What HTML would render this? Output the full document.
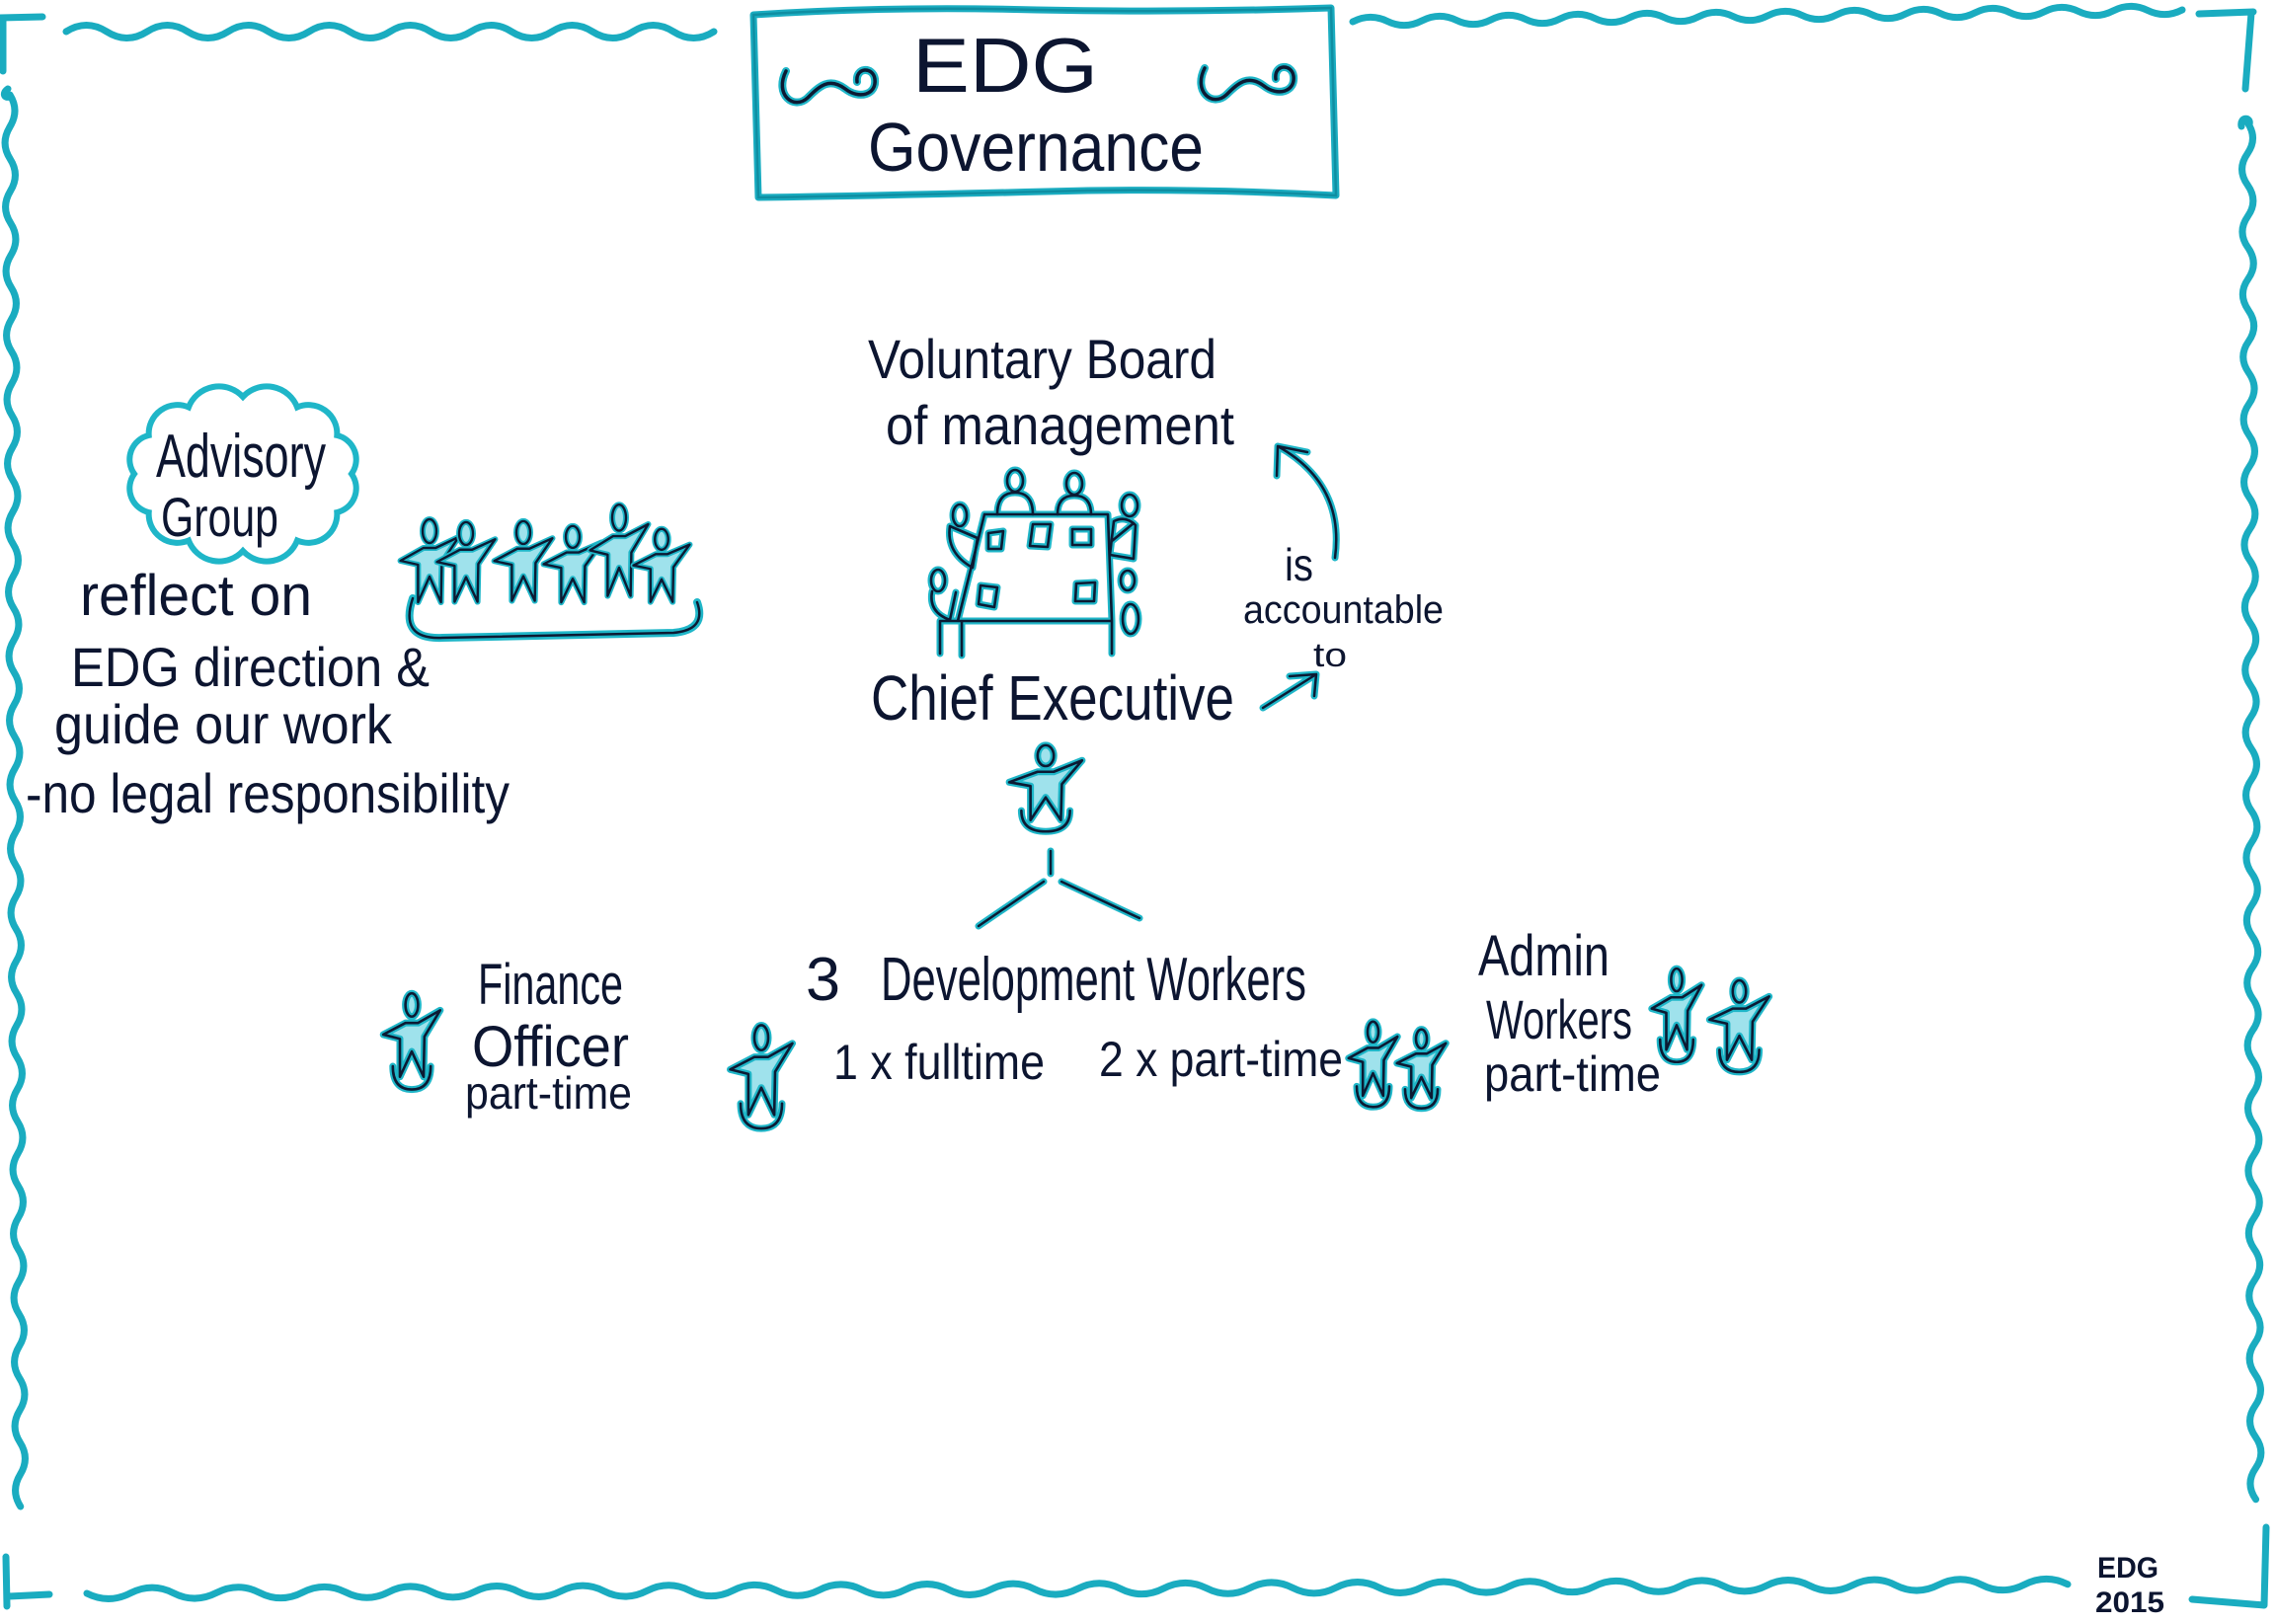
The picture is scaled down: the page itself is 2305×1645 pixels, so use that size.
<!DOCTYPE html>
<html><head><meta charset="utf-8"><style>
html,body{margin:0;padding:0;background:#fff;}
svg{display:block;}
text{font-family:"Liberation Sans Narrow","Liberation Sans",sans-serif;fill:#0c1530;}
</style></head><body>
<svg width="2305" height="1645" viewBox="0 0 2305 1645" xmlns="http://www.w3.org/2000/svg">
<defs>
<symbol id="p" viewBox="0 0 80 100" preserveAspectRatio="none" overflow="visible">
 <g fill="#9fe2ec" stroke="#1fb6c8" stroke-width="7" stroke-linejoin="round" stroke-linecap="round">
  <ellipse cx="40" cy="14" rx="8" ry="11" vector-effect="non-scaling-stroke"/>
  <path d="M4 42 L32 31 L48 31 L76 19 L56 44 L55 82 L40 58 L25 82 L25 46 Z" vector-effect="non-scaling-stroke"/>
  <path d="M16 72 Q16 94 40 94 Q64 94 64 72" fill="none" vector-effect="non-scaling-stroke"/>
 </g>
 <g fill="none" stroke="#0c1a33" stroke-width="2.6" stroke-linejoin="round" stroke-linecap="round">
  <ellipse cx="40" cy="14" rx="8" ry="11" vector-effect="non-scaling-stroke"/>
  <path d="M4 42 L32 31 L48 31 L76 19 L56 44 L55 82 L40 58 L25 82 L25 46 Z" vector-effect="non-scaling-stroke"/>
  <path d="M16 72 Q16 94 40 94 Q64 94 64 72" vector-effect="non-scaling-stroke"/>
 </g>
</symbol>
<symbol id="q" viewBox="0 0 80 100" preserveAspectRatio="none" overflow="visible">
 <g fill="#9fe2ec" stroke="#1fb6c8" stroke-width="6" stroke-linejoin="round" stroke-linecap="round">
  <ellipse cx="40" cy="14" rx="9" ry="12" vector-effect="non-scaling-stroke"/>
  <path d="M2 44 L32 31 L48 31 L78 20 L56 46 L55 86 L40 60 L25 86 L25 48 Z" vector-effect="non-scaling-stroke"/>
 </g>
 <g fill="none" stroke="#0c1a33" stroke-width="2.4" stroke-linejoin="round" stroke-linecap="round">
  <ellipse cx="40" cy="14" rx="9" ry="12" vector-effect="non-scaling-stroke"/>
  <path d="M2 44 L32 31 L48 31 L78 20 L56 46 L55 86 L40 60 L25 86 L25 48 Z" vector-effect="non-scaling-stroke"/>
 </g>
</symbol>
<g id="board" fill="none" stroke-linecap="round" stroke-linejoin="round">
 <path d="M997 521 L1122 521 L1126 629 L952 629 M997 521 L970 629 M952 629 L952 662 M974 629 L974 664 M1126 629 L1126 662"/>
 <ellipse cx="1028" cy="487" rx="8" ry="11"/>
 <path d="M1010 521 Q1010 499 1028 499 Q1046 499 1046 521"/>
 <ellipse cx="1088" cy="490" rx="8" ry="11"/>
 <path d="M1071 521 Q1071 502 1088 502 Q1105 502 1105 521"/>
 <ellipse cx="972" cy="522" rx="7" ry="11"/>
 <path d="M962 533 Q958 560 985 575 L990 545 Z"/>
 <ellipse cx="950" cy="588" rx="7" ry="11"/>
 <path d="M944 599 Q940 620 962 628 L968 600"/>
 <ellipse cx="1144" cy="512" rx="8" ry="11"/>
 <path d="M1124 562 L1128 528 Q1140 522 1150 532 L1148 566 Z M1126 548 L1148 530"/>
 <ellipse cx="1142" cy="588" rx="7" ry="10"/>
 <ellipse cx="1145" cy="627" rx="8" ry="15"/>
 <path d="M1001 540 L1016 538 L1014 556 L1001 556 Z M1046 531 L1064 531 L1061 554 L1043 553 Z M1086 536 L1105 536 L1105 552 L1086 552 Z M993 593 L1010 595 L1007 615 L991 612 Z M1090 591 L1109 590 L1108 609 L1089 609 Z"/>
</g>
<g id="cloud"><path d="M356 480 A25 25 0 0 1 341.3 519 A29 29 0 0 1 301 547.5 A33 33 0 0 1 246 558 A33 33 0 0 1 191 547.5 A29 29 0 0 1 150.7 519 A25 25 0 0 1 136 480 A25 25 0 0 1 150.7 441 A29 29 0 0 1 191 412.5 A33 33 0 0 1 246 402 A33 33 0 0 1 301 412.5 A29 29 0 0 1 341.3 441 A25 25 0 0 1 356 480 Z"/></g>
<g id="swirl"><path d="M796 72 C784 96 804 112 818 99 C830 87 840 78 856 90 C870 101 888 96 886 80 C884 67 866 68 868 83"/></g>
</defs>

<!-- Border -->
<g fill="none" stroke="#1aacc0" stroke-width="7" stroke-linecap="round" stroke-linejoin="round">
 <path d="M0 18 L43 17 M3 18 L3 72"/>
 <path d="M8 90 c-6 4 -4 10 2 8 M10 96 q10 16 0 32.5 t0.25 32.5 t0.25 32.5 t0.25 32.5 t0.25 32.5 t0.25 32.5 t0.25 32.5 t0.25 32.5 t0.25 32.5 t0.25 32.5 t0.25 32.5 t0.25 32.5 t0.25 32.5 t0.25 32.5 t0.25 32.5 t0.25 32.5 t0.25 32.5 t0.25 32.5 t0.25 32.5 t0.25 32.5 t0.25 32.5 t0.25 32.5 t0.25 32.5 t0.25 32.5 t0.25 32.5 t0.25 32.5 t0.25 32.5 t0.25 32.5 t0.25 32.5 t0.25 32.5 t0.25 32.5 t0.25 32.5 t0.25 32.5 t0.25 32.5 t0.25 32.5 t0.25 32.5 t0.25 32.5 t0.25 32.5 t0.25 32.5 t0.25 32.5 t0.25 32.5 t0.25 32.5 t0.25 32.5 t0.25 32.5"/>
 <path d="M67 32 q20.5 -13 41 0 t41 0 t41 0 t41 0 t41 0 t41 0 t41 0 t41 0 t41 0 t41 0 t41 0 t41 0 t41 0 t41 0 t41 0 t41 0"/>
 <path d="M1370 22 q17.5 -9 35 -0.5 t35 -0.5 t35 -0.5 t35 -0.5 t35 -0.5 t35 -0.5 t35 -0.5 t35 -0.5 t35 -0.5 t35 -0.5 t35 -0.5 t35 -0.5 t35 -0.5 t35 -0.5 t35 -0.5 t35 -0.5 t35 -0.5 t35 -0.5 t35 -0.5 t35 -0.5 t35 -0.5 t35 -0.5 t35 -0.5 t35 -0.5"/>
 <path d="M2227 14 L2282 12 M2280 13 L2274 90"/>
 <path d="M2270 128 c-2 -10 10 -10 8 -2 M2276 124 q11 16 0 31.7 t0.2 31.7 t0.2 31.7 t0.2 31.7 t0.2 31.7 t0.2 31.7 t0.2 31.7 t0.2 31.7 t0.2 31.7 t0.2 31.7 t0.2 31.7 t0.2 31.7 t0.2 31.7 t0.2 31.7 t0.2 31.7 t0.2 31.7 t0.2 31.7 t0.2 31.7 t0.2 31.7 t0.2 31.7 t0.2 31.7 t0.2 31.7 t0.2 31.7 t0.2 31.7 t0.2 31.7 t0.2 31.7 t0.2 31.7 t0.2 31.7 t0.2 31.7 t0.2 31.7 t0.2 31.7 t0.2 31.7 t0.2 31.7 t0.2 31.7 t0.2 31.7 t0.2 31.7 t0.2 31.7 t0.2 31.7 t0.2 31.7 t0.2 31.7 t0.2 31.7 t0.2 31.7 t0.2 31.7 t0.2 31.7"/>
 <path d="M88 1614 q22 11 44 -0.2 t43.6 -0.2 t43.6 -0.2 t43.6 -0.2 t43.6 -0.2 t43.6 -0.2 t43.6 -0.2 t43.6 -0.2 t43.6 -0.2 t43.6 -0.2 t43.6 -0.2 t43.6 -0.2 t43.6 -0.2 t43.6 -0.2 t43.6 -0.2 t43.6 -0.2 t43.6 -0.2 t43.6 -0.2 t43.6 -0.2 t43.6 -0.2 t43.6 -0.2 t43.6 -0.2 t43.6 -0.2 t43.6 -0.2 t43.6 -0.2 t43.6 -0.2 t43.6 -0.2 t43.6 -0.2 t43.6 -0.2 t43.6 -0.2 t43.6 -0.2 t43.6 -0.2 t43.6 -0.2 t43.6 -0.2 t43.6 -0.2 t43.6 -0.2 t43.6 -0.2 t43.6 -0.2 t43.6 -0.2 t43.6 -0.2 t43.6 -0.2 t43.6 -0.2 t43.6 -0.2 t43.6 -0.2 t43.6 -0.2 t43.6 -0.2"/>
 <path d="M6 1577 L7 1627 M9 1617 L50 1615"/>
 <path d="M2220 1620 L2293 1626 M2293 1626 L2295 1547"/>
 <path d="M763 15 Q900 6 1050 10 Q1200 13 1348 8 L1353 198 Q1200 190 1060 194 Q900 198 768 200 Z"/>
</g>
<path d="M763 15 Q900 6 1050 10 Q1200 13 1348 8 L1353 198 Q1200 190 1060 194 Q900 198 768 200 Z" fill="none" stroke="#0f8ea2" stroke-width="2.5"/>

<!-- Title -->
<use href="#swirl" fill="none" stroke="#1fb6c8" stroke-width="8" stroke-linecap="round"/>
<use href="#swirl" fill="none" stroke="#0c1a33" stroke-width="3.5" stroke-linecap="round"/>
<use href="#swirl" transform="translate(424,-3)" fill="none" stroke="#1fb6c8" stroke-width="8" stroke-linecap="round"/>
<use href="#swirl" transform="translate(424,-3)" fill="none" stroke="#0c1a33" stroke-width="3.5" stroke-linecap="round"/>
<text x="924" y="93" font-size="78" textLength="188" lengthAdjust="spacingAndGlyphs">EDG</text>
<text x="879" y="173" font-size="70" textLength="340" lengthAdjust="spacingAndGlyphs">Governance</text>

<!-- Advisory -->
<use href="#cloud" fill="none" stroke="#1fb6c8" stroke-width="6"/>
<text x="158" y="483" font-size="62" textLength="172" lengthAdjust="spacingAndGlyphs">Advisory</text>
<text x="163" y="543" font-size="56" textLength="119" lengthAdjust="spacingAndGlyphs">Group</text>
<text x="81" y="623" font-size="58" textLength="235" lengthAdjust="spacingAndGlyphs">reflect on</text>
<text x="72" y="695" font-size="56" textLength="363" lengthAdjust="spacingAndGlyphs">EDG direction &amp;</text>
<text x="55" y="753" font-size="56" textLength="342" lengthAdjust="spacingAndGlyphs">guide our work</text>
<text x="26" y="823" font-size="56" textLength="490" lengthAdjust="spacingAndGlyphs">-no legal responsibility</text>

<!-- group of people -->
<use href="#q" x="404" y="524" width="62" height="100"/>
<use href="#q" x="441" y="527" width="62" height="96"/>
<use href="#q" x="499" y="526" width="62" height="96"/>
<use href="#q" x="549" y="531" width="62" height="92"/>
<use href="#q" x="596" y="509" width="62" height="110"/>
<use href="#q" x="640" y="534" width="60" height="88"/>
<path d="M418 606 Q404 648 448 646 L682 641 Q716 638 706 610" fill="none" stroke="#1fb6c8" stroke-width="8" stroke-linecap="round"/>
<path d="M418 606 Q404 648 448 646 L682 641 Q716 638 706 610" fill="none" stroke="#0c1a33" stroke-width="2.5" stroke-linecap="round"/>

<!-- Board -->
<text x="879" y="383" font-size="56" textLength="353" lengthAdjust="spacingAndGlyphs">Voluntary Board</text>
<text x="897" y="450" font-size="56" textLength="353" lengthAdjust="spacingAndGlyphs">of management</text>
<use href="#board" stroke="#1fb6c8" stroke-width="7"/>
<use href="#board" stroke="#0c1a33" stroke-width="2.6"/>

<!-- accountability arrows -->
<g fill="none" stroke-linecap="round" stroke-linejoin="round">
 <path d="M1352 565 Q1362 490 1294 452 M1293 482 L1294 452 L1324 458 M1279 717 L1333 683 M1306 685 L1333 683 L1331 705" stroke="#1fb6c8" stroke-width="7"/>
 <path d="M1352 565 Q1362 490 1294 452 M1293 482 L1294 452 L1324 458 M1279 717 L1333 683 M1306 685 L1333 683 L1331 705" stroke="#0c1a33" stroke-width="2.5"/>
</g>
<text x="1301" y="588" font-size="46" textLength="29" lengthAdjust="spacingAndGlyphs">is</text>
<text x="1259" y="631" font-size="40" textLength="203" lengthAdjust="spacingAndGlyphs">accountable</text>
<text x="1330" y="675" font-size="34" textLength="34" lengthAdjust="spacingAndGlyphs">to</text>

<!-- Chief Executive -->
<text x="882" y="729" font-size="64" textLength="368" lengthAdjust="spacingAndGlyphs">Chief Executive</text>
<use href="#p" x="1018" y="752" width="82" height="96"/>
<g fill="none" stroke-linecap="round">
 <path d="M1064 862 L1064 885 M1057 893 L991 938 M1075 893 L1154 930" stroke="#1fb6c8" stroke-width="7"/>
 <path d="M1064 862 L1064 885 M1057 893 L991 938 M1075 893 L1154 930" stroke="#0c1a33" stroke-width="2.5"/>
</g>

<!-- Development workers -->
<text x="816" y="1013" font-size="62" textLength="35" lengthAdjust="spacingAndGlyphs">3</text>
<text x="892" y="1013" font-size="62" textLength="431" lengthAdjust="spacingAndGlyphs">Development Workers</text>
<use href="#p" x="736" y="1035" width="70" height="115"/>
<text x="844" y="1093" font-size="50" textLength="214" lengthAdjust="spacingAndGlyphs">1 x fulltime</text>
<text x="1113" y="1090" font-size="50" textLength="247" lengthAdjust="spacingAndGlyphs">2 x part-time</text>
<use href="#p" x="1363" y="1032" width="55" height="95"/>
<use href="#p" x="1412" y="1040" width="55" height="88"/>

<!-- Finance -->
<use href="#p" x="385" y="1003" width="64" height="107"/>
<text x="484" y="1017" font-size="58" textLength="147" lengthAdjust="spacingAndGlyphs">Finance</text>
<text x="478" y="1080" font-size="58" textLength="159" lengthAdjust="spacingAndGlyphs">Officer</text>
<text x="471" y="1123" font-size="46" textLength="169" lengthAdjust="spacingAndGlyphs">part-time</text>

<!-- Admin -->
<text x="1497" y="988" font-size="58" textLength="133" lengthAdjust="spacingAndGlyphs">Admin</text>
<text x="1505" y="1052" font-size="56" textLength="148" lengthAdjust="spacingAndGlyphs">Workers</text>
<text x="1503" y="1105" font-size="50" textLength="179" lengthAdjust="spacingAndGlyphs">part-time</text>
<use href="#p" x="1670" y="978" width="56" height="104"/>
<use href="#p" x="1728" y="990" width="67" height="102"/>

<!-- signature -->
<text x="2124" y="1598" font-size="30" font-weight="bold" textLength="62" lengthAdjust="spacingAndGlyphs">EDG</text>
<text x="2122" y="1633" font-size="30" font-weight="bold" textLength="70" lengthAdjust="spacingAndGlyphs">2015</text>
</svg>
</body></html>
